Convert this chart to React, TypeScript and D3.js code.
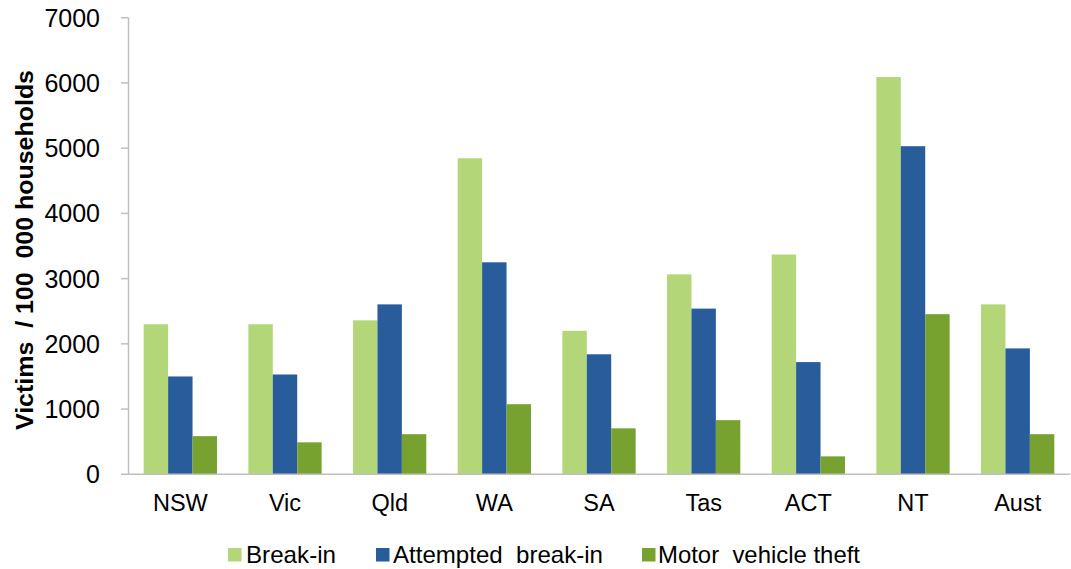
import React from "react";
import * as d3 from "d3";

const categories = ["NSW", "Vic", "Qld", "WA", "SA", "Tas", "ACT", "NT", "Aust"];
const seriesNames = ["Break-in", "Attempted  break-in", "Motor  vehicle theft"];
const breakIn = [2300, 2300, 2360, 4845, 2200, 3065, 3370, 6090, 2605];
const attempted = [1500, 1530, 2605, 3250, 1840, 2540, 1720, 5030, 1930];
const motorTheft = [585, 490, 615, 1075, 705, 830, 275, 2455, 615];
const yTicks = [0, 1000, 2000, 3000, 4000, 5000, 6000, 7000];
const colors = ["#B3D678", "#285C9B", "#78A22F"];

const W = 1071;
const H = 569;
const FONT = "'Liberation Sans', Arial, sans-serif";

export default function App() {
  const values = [breakIn, attempted, motorTheft];
  const x = d3.scaleBand<string>().domain(categories).range([128, 1070]).paddingInner(0.3).paddingOuter(0.15);
  const xs = d3.scaleBand<string>().domain(seriesNames).range([0, x.bandwidth()]).padding(0);
  const y = d3.scaleLinear().domain([0, 7000]).range([474.3, 17.7]);

  const legendItems = [
    { x: 228, textX: 246, len: 90 },
    { x: 376, textX: 393, len: 210 },
    { x: 642, textX: 658, len: 202 },
  ];

  return (
    <svg width={W} height={H} style={{ position: "absolute", left: 0, top: 0, background: "#fff" }}>
      <g>
        {categories.map((c, i) =>
          seriesNames.map((s, j) => {
            const v = values[j][i];
            return (
              <rect
                key={c + s}
                x={(x(c) as number) + (xs(s) as number)}
                y={y(v)}
                width={xs.bandwidth()}
                height={y(0) - y(v)}
                fill={colors[j]}
              />
            );
          })
        )}
      </g>
      {/* y axis */}
      <line x1={128.5} x2={128.5} y1={y(7000)} y2={y(0)} stroke="#BFBFBF" strokeWidth={1.5} />
      {yTicks.map((t) => (
        <g key={t}>
          <line x1={121} x2={128.5} y1={y(t)} y2={y(t)} stroke="#BFBFBF" strokeWidth={1.5} />
          <text x={100} y={y(t)} dy="0.36em" textAnchor="end" fontFamily={FONT} fontSize={25} fill="#000">
            {t}
          </text>
        </g>
      ))}
      {/* x axis */}
      <line x1={128} x2={1070} y1={y(0)} y2={y(0)} stroke="#BFBFBF" strokeWidth={1.5} />
      {categories.map((c) => (
        <text
          key={c}
          x={(x(c) as number) + x.bandwidth() / 2}
          y={511}
          textAnchor="middle"
          fontFamily={FONT}
          fontSize={23.5}
          fill="#000"
        >
          {c}
        </text>
      ))}
      {/* y title */}
      <text
        transform={`translate(32.5,70) rotate(-90)`}
        x={-360}
        y={0}
        textAnchor="start"
        fontFamily={FONT}
        fontSize={23}
        fontWeight="bold"
        fill="#000"
        textLength={360}
        lengthAdjust="spacingAndGlyphs"
        style={{ whiteSpace: "pre" }}
      >
        {"Victims  / 100  000 households"}
      </text>
      {/* legend */}
      {seriesNames.map((s, j) => (
        <g key={s}>
          <rect x={legendItems[j].x} y={548} width={13.5} height={13.5} fill={colors[j]} />
          <text
            x={legendItems[j].textX}
            y={563}
            fontFamily={FONT}
            fontSize={24}
            fill="#000"
            textLength={legendItems[j].len}
            lengthAdjust="spacingAndGlyphs"
            style={{ whiteSpace: "pre" }}
          >
            {s}
          </text>
        </g>
      ))}
    </svg>
  );
}
